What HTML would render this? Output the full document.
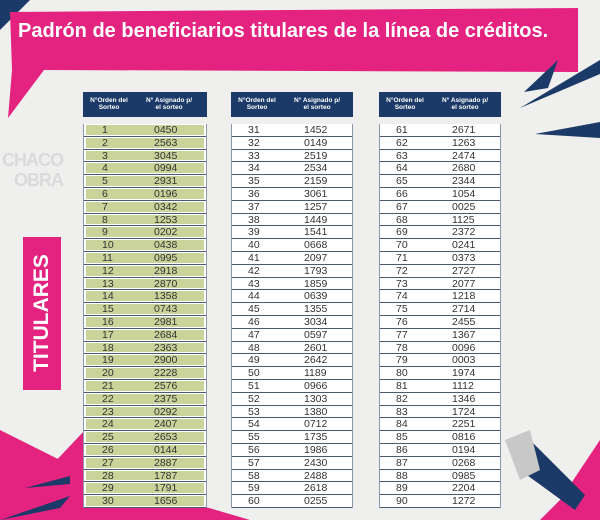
<!DOCTYPE html>
<html><head><meta charset="utf-8"><style>
*{margin:0;padding:0;box-sizing:border-box}
body{width:600px;height:520px;overflow:hidden;background:#efefee;position:relative;font-family:"Liberation Sans",sans-serif}
.abs{position:absolute}
.hdr{position:absolute;top:92px;height:25px;background:#1c3a68;color:#fff;font-size:6.5px;font-weight:bold;line-height:7px}
.hdr span{position:absolute;top:5px;text-align:center}
.tb{position:absolute;top:124px;border-left:1px solid #8a98aa;border-right:1px solid #8a98aa}
.r{height:12.8px;border-bottom:1px solid #4a5a70;position:relative;font-size:10.5px;color:#333;line-height:11px;background:#fff}
.g .r i{position:absolute;left:2px;right:2px;top:1px;bottom:1px;background:#c9d39a}
.r b{position:absolute;font-weight:normal;top:1px}
</style></head><body>
<svg class="abs" style="left:0;top:0" width="600" height="520">
<polygon points="0,0 30,0 0,30" fill="#1c3a68"/>
<polygon points="10,12 578,8 578,72 44,70 8,118 12,70" fill="#e3237f"/>
<polygon points="548,88 558,60 524,92" fill="#1c3a68"/>
<polygon points="520,108 600,60 600,74" fill="#1c3a68"/>
<polygon points="535,134 600,122 600,138" fill="#1c3a68"/>
<polygon points="0,430 80,470 250,520 0,520" fill="#e3237f"/>
<polygon points="85,430 200,470 160,520 0,520" fill="#e3237f"/>
<polygon points="25,488 70,476 70,484" fill="#1c3a68"/>
<polygon points="0,520 70,496 60,508" fill="#1c3a68"/>
<polygon points="560,500 600,440 600,520 540,520" fill="#e3237f"/>
<polygon points="530,440 585,495 575,510 520,470" fill="#1c3a68"/>
<polygon points="505,440 530,430 540,470 520,480" fill="#c8c8c8"/>
</svg>
<div class="abs" style="left:18px;top:20px;font-size:20px;font-weight:bold;color:#fff;white-space:nowrap">Padrón de beneficiarios titulares de la línea de créditos.</div>
<div class="abs" style="left:2px;top:150px;font-size:18px;color:#dadada;font-weight:bold;line-height:20px;letter-spacing:-1px">CHACO<br>&nbsp;&nbsp;&nbsp;OBRA</div>
<div class="abs" style="left:23px;top:237px;width:38px;height:153px;background:#e3237f"></div>
<div class="abs" style="left:42px;top:313px;transform:translate(-50%,-50%) rotate(-90deg);font-size:21px;font-weight:bold;color:#fff;white-space:nowrap">TITULARES</div>
<div id="c"></div>
<script>
var d=[[450,2563,3045,994,2931,196,342,1253,202,438,995,2918,2870,1358,743,2981,2684,2363,2900,2228,2576,2375,292,2407,2653,144,2887,1787,1791,1656],
[1452,149,2519,2534,2159,3061,1257,1449,1541,668,2097,1793,1859,639,1355,3034,597,2601,2642,1189,966,1303,1380,712,1735,1986,2430,2488,2618,255],
[2671,1263,2474,2680,2344,1054,25,1125,2372,241,373,2727,2077,1218,2714,2455,1367,96,3,1974,1112,1346,1724,2251,816,194,268,985,2204,1272]];
var xs=[83,231,379],ws=[124,122,122],h='';
for(var t=0;t<3;t++){var x=xs[t],w=ws[t];
h+='<div class="hdr" style="left:'+x+'px;width:'+w+'px"><span style="left:4px;width:44px">N°Orden del<br>Sorteo</span><span style="left:56px;width:60px">N° Asignado p/<br>el sorteo</span></div>';
h+='<div class="tb'+(t==0?' g':'')+'" style="left:'+x+'px;width:'+w+'px">';
for(var i=0;i<30;i++){var n=t*30+i+1,v=('000'+d[t][i]).slice(-4);
h+='<div class="r">'+(t==0?'<i></i>':'')+'<b style="left:'+(t==0?18:16)+'px">'+n+'</b><b style="left:'+(t==0?70:72)+'px">'+v+'</b></div>';}
h+='</div>';}
document.getElementById('c').innerHTML=h;
</script>
</body></html>
